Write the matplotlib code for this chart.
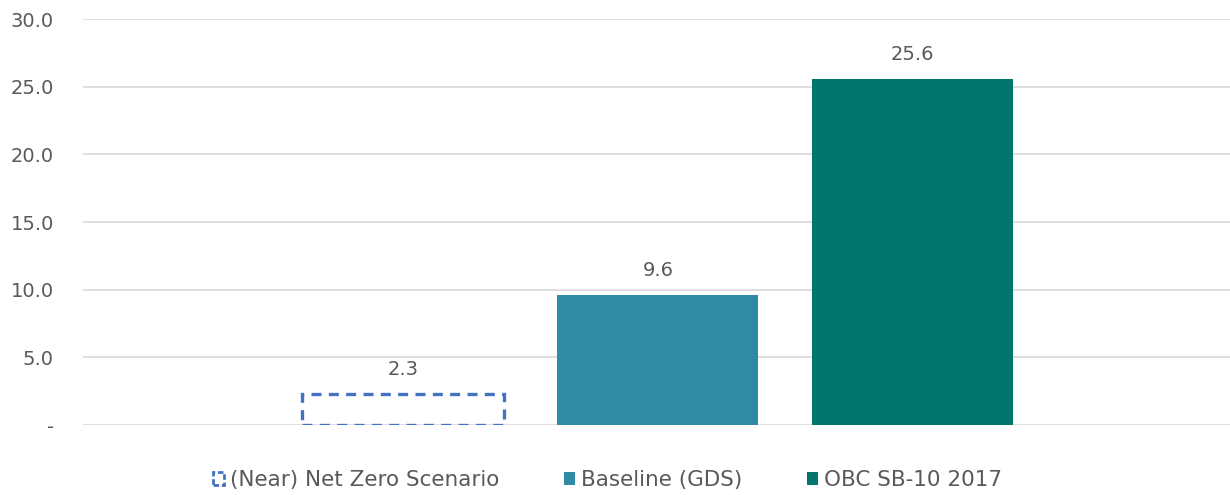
import matplotlib
matplotlib.use("Agg")
import matplotlib.pyplot as plt
from matplotlib.patches import Patch
from matplotlib.ticker import FixedLocator, FuncFormatter

series = ["(Near) Net Zero Scenario", "Baseline (GDS)", "OBC SB-10 2017"]
values = [2.3, 9.6, 25.6]
yticks = [0, 5, 10, 15, 20, 25, 30]

plt.rcParams['font.family'] = ['DejaVu Sans']
txt = "#595959"

fig = plt.figure(figsize=(12.3, 4.95), dpi=100)
ax = fig.add_axes([0.0675, 0.1414, 0.9325, 0.8202])

x = [0, 1, 2]
w = 0.79
ax.bar(x[0], values[0], width=w, facecolor="none", edgecolor="#4472C4",
       linewidth=2.4, linestyle=(0, (3, 2.2)), zorder=3)
ax.bar(x[1], values[1], width=w, color="#2E8BA3", zorder=3)
ax.bar(x[2], values[2], width=w, color="#02756F", zorder=3)

for xi, v in zip(x, values):
    ax.text(xi, v + 1.1, f"{v:.1f}", ha="center", va="bottom", fontsize=14, color=txt)

ax.set_xlim(-1.255, 3.245)
ax.set_ylim(0, 30)
ax.yaxis.set_major_locator(FixedLocator(yticks))
ax.yaxis.set_major_formatter(FuncFormatter(lambda v, p: "-" if v == 0 else f"{v:.1f}"))
ax.set_xticks([])
ax.tick_params(axis="y", length=0, pad=21, labelsize=14, labelcolor=txt)
ax.grid(axis="y", color="#D9D9D9", linewidth=1.2, zorder=0)
for s in ax.spines.values():
    s.set_visible(False)

handles = [
    Patch(facecolor="none", edgecolor="#4472C4", linewidth=2, linestyle=(0, (2, 1))),
    Patch(facecolor="#2E8BA3"),
    Patch(facecolor="#02756F"),
]
fig.legend(handles, series, loc="center", bbox_to_anchor=(0.494, 0.03), ncol=3,
           frameon=False, fontsize=15.5, labelcolor=txt, handlelength=0.5,
           handleheight=0.55, handletextpad=0.3, columnspacing=3.0)

fig.savefig("out.png", dpi=100)
